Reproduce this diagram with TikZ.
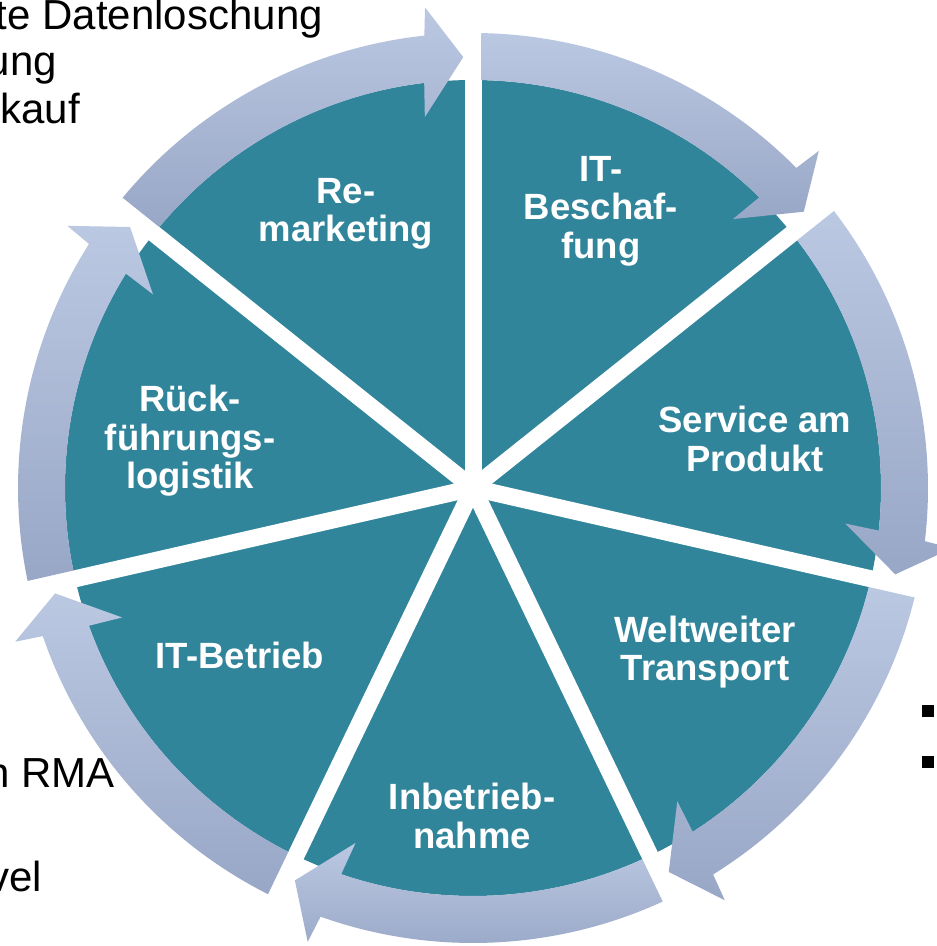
\documentclass[tikz,border=0pt]{standalone}
\usepackage{fontspec}
\setmainfont{Liberation Sans}
\definecolor{segteal}{RGB}{49,133,155}
\definecolor{arrtop}{RGB}{187,200,226}
\definecolor{arrmid}{RGB}{178,192,222}
\definecolor{arrbot}{RGB}{152,167,198}
\begin{document}
\begin{tikzpicture}[x=1pt,y=1pt,
  seglabel/.style={text=white,font=\fontsize{36.5}{38.5}\selectfont\bfseries,align=center,inner sep=0pt},
  bgtext/.style={font=\fontsize{42}{48}\selectfont,text=black,inner sep=0pt},
  arrowfill/.style={top color=arrtop,middle color=arrmid,bottom color=arrbot,draw=none},
  gapline/.style={white,line width=17pt},
  bulletbox/.style={fill=black,minimum size=12pt,inner sep=0pt}]
\useasboundingbox (0,0) rectangle (937,946);
\fill[white] (0,0) rectangle (937,946);

% background text fragments
\node[bgtext,anchor=base east] (t1) at (323,916) {te Datenloschung};
\node[bgtext,anchor=base east] (t2) at (57,870) {ung};
\node[bgtext,anchor=base east] (t3) at (80,822) {kauf};
\node[bgtext,anchor=base east] (t4) at (115,158) {n RMA};
\node[bgtext,anchor=base east] (t5) at (42,54) {vel};
\node[bulletbox] (b1) at (928,235) {};
\node[bulletbox] (b2) at (928,184) {};

\begin{scope}[shift={(473,458)}]
  \coordinate (C) at (0,0);
  \fill[segteal] (C) circle[radius=408];
  \foreach \k in {0,...,6}{
    \draw[gapline] (C) -- ({90-\k*360/7}:415);
  }
  \foreach \k in {0,...,6}{
    \pgfmathsetmacro\a{90-\k*360/7}
    \pgfmathsetmacro\b{\a-360/7}
    \path[arrowfill] (\a-1.07:455) arc[start angle=\a-1.07, end angle=\b+6.14, radius=455]
      -- (\b+5.7:483) -- (\b+1.3:431) -- (\b+7.4:374) -- (\b+6.87:408)
      arc[start angle=\b+6.87, end angle=\a-1.19, radius=408] -- cycle;
  }
\end{scope}

\node[seglabel] (remarketing) at (346,732) {Re-\\marketing};
\node[seglabel] (beschaffung) at (601,735) {IT-\\Beschaf-\\fung};
\node[seglabel] (service) at (755,507) {Service am\\Produkt};
\node[seglabel] (transport) at (705,294) {Weltweiter\\Transport};
\node[seglabel] (inbetrieb) at (472,130) {Inbetrieb-\\nahme};
\node[seglabel] (betrieb) at (240,291) {IT-Betrieb};
\node[seglabel] (rueck) at (190,505) {Rück-\\führungs-\\logistik};
\end{tikzpicture}
\end{document}
